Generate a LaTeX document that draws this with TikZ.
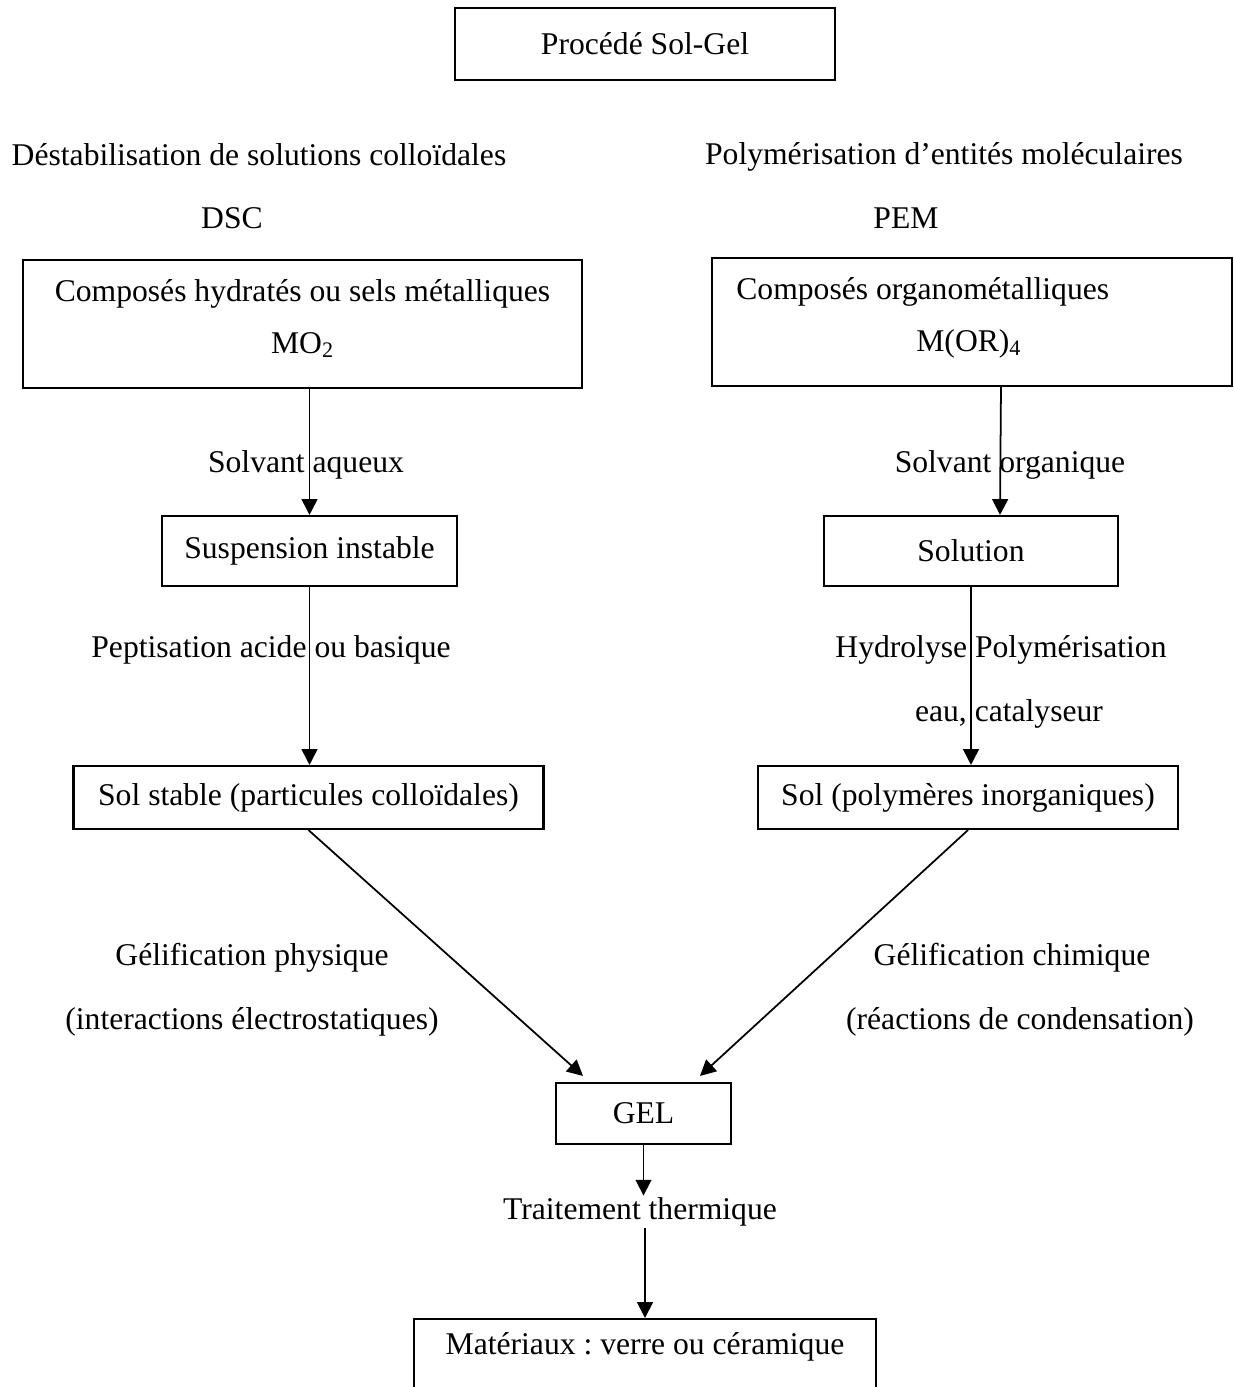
\documentclass[tikz,border=0pt]{standalone}
\usepackage{fontspec}
\setmainfont{Liberation Serif}
\usetikzlibrary{arrows.meta}
\tikzset{
  solbox/.style = {draw, rectangle, line width=1.2pt, align=center, inner sep=0pt, font=\fontsize{18}{22}\selectfont\frenchspacing},
  stepnote/.style = {align=center, inner sep=1pt, font=\fontsize{18}{22}\selectfont\frenchspacing},
  flow/.style = {-{Triangle[length=9pt,width=9pt]}, line width=1pt}
}

\begin{document}
\begin{tikzpicture}[x=0.02cm, y=-0.02cm]
    \useasboundingbox (0,0) rectangle (1234,1387);
    % boxes
    \node[solbox, minimum width=7.6cm, minimum height=1.44cm] (titre) at (645,44) {Procédé Sol-Gel};
    \node[solbox, minimum width=11.18cm, minimum height=2.56cm, text depth=0.3cm] (cmp_a) at (302.5,324)
        {Composés hydratés ou sels métalliques\\[7.5pt]MO\textsubscript{2}};
    \node[solbox, minimum width=10.4cm, minimum height=2.56cm, text depth=0.3cm, align=left] (cmp_b) at (972,322)
        {Composés organométalliques\hspace*{1.97cm}\\[7.5pt]\hspace*{3.6cm}M(OR)\textsubscript{4}};
    \node[solbox, minimum width=5.9cm, minimum height=1.4cm] (susp) at (309.5,551) {Suspension instable};
    \node[solbox, minimum width=5.88cm, minimum height=1.4cm] (soln) at (971,551) {Solution};
    \node[solbox, minimum width=9.4cm, minimum height=1.26cm] (stab) at (308.5,797.5) {Sol stable (particules colloïdales)};
    \node[solbox, minimum width=8.4cm, minimum height=1.26cm] (solp) at (968,797.5) {Sol (polymères inorganiques)};
    \node[solbox, minimum width=3.5cm, minimum height=1.22cm] (gel) at (643.5,1113.5) {GEL};
    \node[solbox, minimum width=9.24cm, anchor=north, inner ysep=0.25cm, text height=0.45cm, text depth=1.2cm] (mat) at (645,1318)
        {Matériaux : verre ou céramique};
    % texts
    \node[stepnote] (dsc_t) at (259,155) {Déstabilisation de solutions colloïdales};
    \node[stepnote] (pem_t) at (944,157) {Polymérisation d’entités moléculaires};
    \node[stepnote] (dsc) at (232,218) {DSC};
    \node[stepnote] (pem) at (906,218) {PEM};
    \node[stepnote] (aqu) at (306,465) {Solvant aqueux};
    \node[stepnote] (org) at (1010,465) {Solvant organique};
    \node[stepnote] (pept) at (271,650) {Peptisation acide ou basique};
    \node[stepnote] (hydro) at (1001,650) {Hydrolyse Polymérisation};
    \node[stepnote] (cata) at (1009,714) {eau, catalyseur};
    \node[stepnote] (gphys) at (252,958) {Gélification physique};
    \node[stepnote] (inter) at (252,1022) {(interactions électrostatiques)};
    \node[stepnote] (gchim) at (1012,958) {Gélification chimique};
    \node[stepnote] (react) at (1020,1022) {(réactions de condensation)};
    \node[stepnote] (traite) at (640,1212) {Traitement thermique};
    % arrows
    \draw[flow] (cmp_a.south -| susp.north) -- (susp.north);
    \draw[flow] ([xshift=0.58cm]cmp_b.south) -- ([xshift=0.58cm]soln.north);
    \draw[flow] (susp.south) -- (susp.south |- stab.north);
    \draw[flow] (soln.south) -- (soln.south |- solp.north);
    \draw[flow] (stab.south) -- ([xshift=-1.21cm, yshift=0.12cm]gel.north);
    \draw[flow] (solp.south) -- ([xshift=1.13cm, yshift=0.12cm]gel.north);
    \draw[flow] (gel.south) -- (gel.south |- traite.north);
    \draw[flow] (traite.south -| mat.north) -- (mat.north);
\end{tikzpicture}
\end{document}
